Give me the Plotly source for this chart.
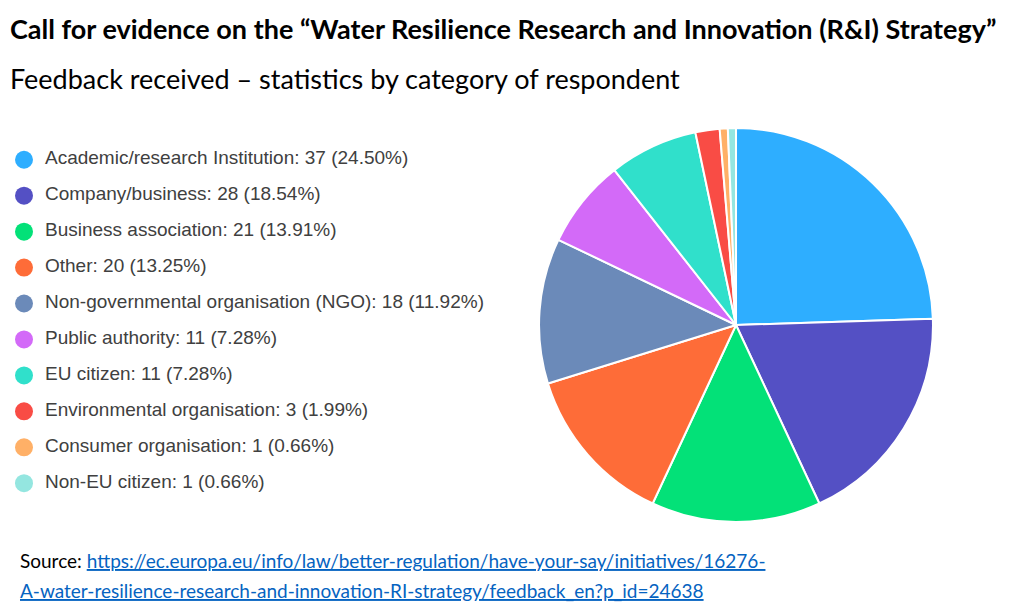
import plotly.graph_objects as go

# Datos
categorias = [
    'Academic/research Institution',
    'Company/business',
    'Business association',
    'Other',
    'Non-governmental organisation (NGO)',
    'Public authority',
    'EU citizen',
    'Environmental organisation',
    'Consumer organisation',
    'Non-EU citizen',
]
respuestas = [37, 28, 21, 20, 18, 11, 11, 3, 1, 1]
colores = ['#2eaeff', '#5450c4', '#03e178', '#fe6c38', '#6b8ab9',
           '#d36af8', '#30e0cb', '#f94c45', '#ffb067', '#94e6e0']

titulo = 'Call for evidence on the \u201cWater Resilience Research and Innovation (R&I) Strategy\u201d'
subtitulo = 'Feedback received \u2013 statistics by category of respondent'
fuente_url_1 = 'https://ec.europa.eu/info/law/better-regulation/have-your-say/initiatives/16276-'
fuente_url_2 = 'A-water-resilience-research-and-innovation-RI-strategy/feedback_en?p_id=24638'

total = sum(respuestas)
etiquetas = [f'{c}: {n} ({n / total * 100:.2f}%)' for c, n in zip(categorias, respuestas)]
filas = list(range(len(categorias)))

fig = go.Figure()

# Pastel
fig.add_trace(go.Pie(
    labels=categorias,
    values=respuestas,
    sort=False,
    direction='clockwise',
    marker=dict(colors=colores, line=dict(color='white', width=2)),
    textinfo='none',
    hoverinfo='label+value+percent',
    showlegend=False,
    domain=dict(x=[0.5186, 0.9033], y=[0.1656, 0.8052]),
))

# Leyenda: círculos
fig.add_trace(go.Scatter(
    x=[16] * len(categorias),
    y=filas,
    mode='markers',
    marker=dict(color=colores, size=18),
    hoverinfo='skip',
    showlegend=False,
    cliponaxis=False,
))

# Leyenda: textos
fig.add_trace(go.Scatter(
    x=[37] * len(categorias),
    y=filas,
    mode='text',
    text=etiquetas,
    textposition='middle right',
    textfont=dict(family='Liberation Sans, Arial', size=19, color='#404040'),
    hoverinfo='skip',
    showlegend=False,
    cliponaxis=False,
))

fig.update_layout(
    width=1024,
    height=616,
    margin=dict(l=0, r=0, t=0, b=0),
    paper_bgcolor='white',
    plot_bgcolor='white',
    xaxis=dict(domain=[0, 0.5], range=[0, 512], visible=False, fixedrange=True),
    yaxis=dict(domain=[0, 1], range=[12.917, -4.222], visible=False, fixedrange=True),
    annotations=[
        dict(text=f'<b>{titulo}</b>', x=0, y=1 - 21 / 616, xref='paper', yref='paper',
             xanchor='left', yanchor='middle', showarrow=False,
             font=dict(family='Lato', size=27, color='black')),
        dict(text=subtitulo, x=0, y=1 - 70 / 616, xref='paper', yref='paper',
             xanchor='left', yanchor='middle', showarrow=False,
             font=dict(family='Lato', size=27, color='black')),
        dict(text=f"Source: <span style='color:#0563c1'><u>{fuente_url_1}</u></span>",
             x=10 / 1024, y=1 - 552 / 616, xref='paper', yref='paper',
             xanchor='left', yanchor='middle', showarrow=False,
             font=dict(family='Lato', size=19, color='black')),
        dict(text=f"<span style='color:#0563c1'><u>{fuente_url_2}</u></span>",
             x=10 / 1024, y=1 - 582 / 616, xref='paper', yref='paper',
             xanchor='left', yanchor='middle', showarrow=False,
             font=dict(family='Lato', size=19, color='black')),
    ],
)

fig.write_html('out.html')
